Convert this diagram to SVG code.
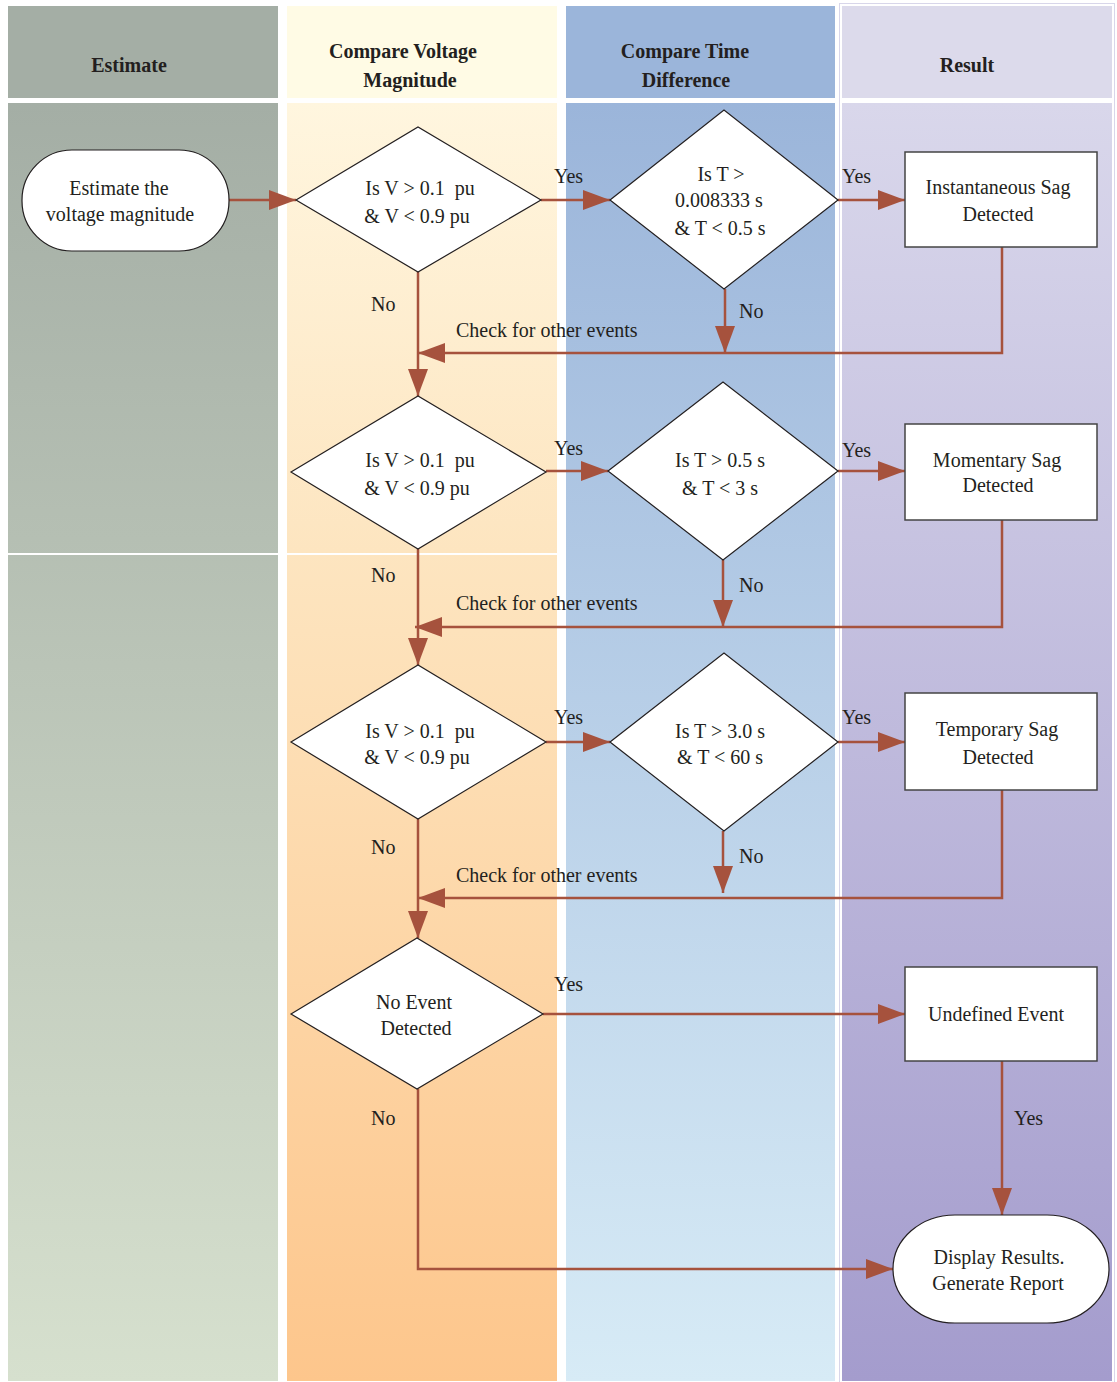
<svg xmlns="http://www.w3.org/2000/svg" width="1117" height="1382" viewBox="0 0 1117 1382">
<defs>
<linearGradient id="gEst" x1="0" y1="0" x2="0" y2="1"><stop offset="0" stop-color="#a4aea5"/><stop offset="1" stop-color="#d6e0ce"/></linearGradient>
<linearGradient id="gVol" x1="0" y1="0" x2="0" y2="1"><stop offset="0" stop-color="#fff6df"/><stop offset="0.35" stop-color="#fde5c0"/><stop offset="1" stop-color="#fdc68c"/></linearGradient>
<linearGradient id="gTim" x1="0" y1="0" x2="0" y2="1"><stop offset="0" stop-color="#9bb5da"/><stop offset="1" stop-color="#d7ebf6"/></linearGradient>
<linearGradient id="gRes" x1="0" y1="0" x2="0" y2="1"><stop offset="0" stop-color="#d9d7eb"/><stop offset="1" stop-color="#a49ccd"/></linearGradient>
<marker id="ah" markerUnits="userSpaceOnUse" markerWidth="28" markerHeight="22" viewBox="0 0 28 22" refX="27" refY="11" orient="auto"><path d="M0,1 L27,11 L0,21 Z" fill="#a6523d"/></marker>
</defs>
<style>
.hd{font-family:"Liberation Serif","Times New Roman",serif;font-weight:bold;font-size:20px;fill:#231f20;text-anchor:middle}
.t{font-family:"Liberation Serif","Times New Roman",serif;font-size:20px;fill:#231f20;text-anchor:middle}
.lb{font-family:"Liberation Serif","Times New Roman",serif;font-size:20px;fill:#231f20}
.shape{fill:#fff;stroke:#231f20;stroke-width:1.2}
.box{fill:#fff;stroke:#444;stroke-width:1.5}
.c{fill:none;stroke:#a6523d;stroke-width:2.5}
.ca{fill:none;stroke:#a6523d;stroke-width:2.5;marker-end:url(#ah)}
</style>
<rect width="1117" height="1382" fill="#fff"/>
<g id="lanes">
<rect x="8" y="6" width="270" height="92" fill="#a4aea5"/>
<rect x="287" y="6" width="270" height="92" fill="#fffbe5"/>
<rect x="566" y="6" width="269" height="92" fill="#9bb5da"/>
<rect x="842" y="6" width="270" height="92" fill="#dcdaeb"/>
<rect x="8" y="103" width="270" height="1278" fill="url(#gEst)"/>
<rect x="287" y="103" width="270" height="1278" fill="url(#gVol)"/>
<rect x="566" y="103" width="269" height="1278" fill="url(#gTim)"/>
<rect x="842" y="103" width="270" height="1278" fill="url(#gRes)"/>
<rect x="839.5" y="3.5" width="275" height="1379" fill="none" stroke="#d8d6ea" stroke-width="1"/>
<rect x="8" y="553" width="549" height="2" fill="#fff"/>
<text class="hd" x="129" y="72">Estimate</text>
<text class="hd" x="403" y="58">Compare Voltage</text>
<text class="hd" x="410" y="87">Magnitude</text>
<text class="hd" x="685" y="58">Compare Time</text>
<text class="hd" x="686" y="87">Difference</text>
<text class="hd" x="967" y="72">Result</text>
</g>
<g id="connectors">
<line class="ca" x1="229" y1="200" x2="296" y2="200"/>
<line class="ca" x1="541" y1="200" x2="610" y2="200"/>
<line class="ca" x1="838" y1="200" x2="905" y2="200"/>
<line class="ca" x1="725" y1="289" x2="725" y2="353"/>
<polyline class="ca" points="1002,247 1002,353 418,353"/>
<line class="ca" x1="418" y1="272" x2="418" y2="396"/>
<line class="ca" x1="546" y1="471" x2="608" y2="471"/>
<line class="ca" x1="838" y1="471" x2="905" y2="471"/>
<line class="ca" x1="723" y1="560" x2="723" y2="627"/>
<polyline class="ca" points="1002,520 1002,627 415,627"/>
<line class="ca" x1="418" y1="549" x2="418" y2="665"/>
<line class="ca" x1="546" y1="742" x2="610" y2="742"/>
<line class="ca" x1="838" y1="742" x2="905" y2="742"/>
<line class="ca" x1="723" y1="831" x2="723" y2="893"/>
<polyline class="ca" points="1002,790 1002,898 418,898"/>
<line class="ca" x1="418" y1="819" x2="418" y2="938"/>
<line class="ca" x1="543" y1="1014" x2="905" y2="1014"/>
<line class="ca" x1="1002" y1="1061" x2="1002" y2="1215"/>
<polyline class="ca" points="418,1089 418,1269 893,1269"/>
<text class="lb" x="554" y="183">Yes</text>
<text class="lb" x="842" y="183">Yes</text>
<text class="lb" x="739" y="318">No</text>
<text class="lb" x="371" y="311">No</text>
<text class="lb" x="456" y="337">Check for other events</text>
<text class="lb" x="554" y="455">Yes</text>
<text class="lb" x="842" y="457">Yes</text>
<text class="lb" x="739" y="592">No</text>
<text class="lb" x="371" y="582">No</text>
<text class="lb" x="456" y="610">Check for other events</text>
<text class="lb" x="554" y="724">Yes</text>
<text class="lb" x="842" y="724">Yes</text>
<text class="lb" x="739" y="863">No</text>
<text class="lb" x="371" y="854">No</text>
<text class="lb" x="456" y="882">Check for other events</text>
<text class="lb" x="554" y="991">Yes</text>
<text class="lb" x="1014" y="1125">Yes</text>
<text class="lb" x="371" y="1125">No</text>
</g>
<g id="start">
<rect class="shape" x="22" y="150" width="207" height="101" rx="50" ry="50"/>
<text class="t" x="119" y="195">Estimate the</text>
<text class="t" x="120" y="221">voltage magnitude</text>
</g>
<g id="d1">
<polygon class="shape" points="296,200 418,127 541,200 418,272"/>
<text class="t" x="420" y="195" xml:space="preserve">Is V &gt; 0.1  pu</text>
<text class="t" x="417" y="223">&amp; V &lt; 0.9 pu</text>
</g>
<g id="d2">
<polygon class="shape" points="610,200 724,110 838,200 724,289"/>
<text class="t" x="721" y="181">Is T &gt;</text>
<text class="t" x="719" y="207">0.008333 s</text>
<text class="t" x="720" y="235">&amp; T &lt; 0.5 s</text>
</g>
<g id="b1">
<rect class="box" x="905" y="152" width="192" height="95"/>
<text class="t" x="998" y="194">Instantaneous Sag</text>
<text class="t" x="998" y="221">Detected</text>
</g>
<g id="d3">
<polygon class="shape" points="291,472 418,396 546,472 418,549"/>
<text class="t" x="420" y="467" xml:space="preserve">Is V &gt; 0.1  pu</text>
<text class="t" x="417" y="495">&amp; V &lt; 0.9 pu</text>
</g>
<g id="d4">
<polygon class="shape" points="608,471 723,382 838,471 723,560"/>
<text class="t" x="720" y="467">Is T &gt; 0.5 s</text>
<text class="t" x="720" y="495">&amp; T &lt; 3 s</text>
</g>
<g id="b2">
<rect class="box" x="905" y="424" width="192" height="96"/>
<text class="t" x="997" y="467">Momentary Sag</text>
<text class="t" x="998" y="492">Detected</text>
</g>
<g id="d5">
<polygon class="shape" points="291,742 418,665 546,742 418,819"/>
<text class="t" x="420" y="738" xml:space="preserve">Is V &gt; 0.1  pu</text>
<text class="t" x="417" y="764">&amp; V &lt; 0.9 pu</text>
</g>
<g id="d6">
<polygon class="shape" points="610,742 724,653 838,742 724,831"/>
<text class="t" x="720" y="738">Is T &gt; 3.0 s</text>
<text class="t" x="720" y="764">&amp; T &lt; 60 s</text>
</g>
<g id="b3">
<rect class="box" x="905" y="693" width="192" height="97"/>
<text class="t" x="997" y="736">Temporary Sag</text>
<text class="t" x="998" y="764">Detected</text>
</g>
<g id="d7">
<polygon class="shape" points="291,1014 417,938 543,1014 417,1089"/>
<text class="t" x="414" y="1009">No Event</text>
<text class="t" x="416" y="1035">Detected</text>
</g>
<g id="b4">
<rect class="box" x="905" y="967" width="192" height="94"/>
<text class="t" x="996" y="1021">Undefined Event</text>
</g>
<g id="end">
<rect class="shape" x="893" y="1215" width="216" height="108" rx="62" ry="54"/>
<text class="t" x="999" y="1264">Display Results.</text>
<text class="t" x="998" y="1290">Generate Report</text>
</g>
</svg>
